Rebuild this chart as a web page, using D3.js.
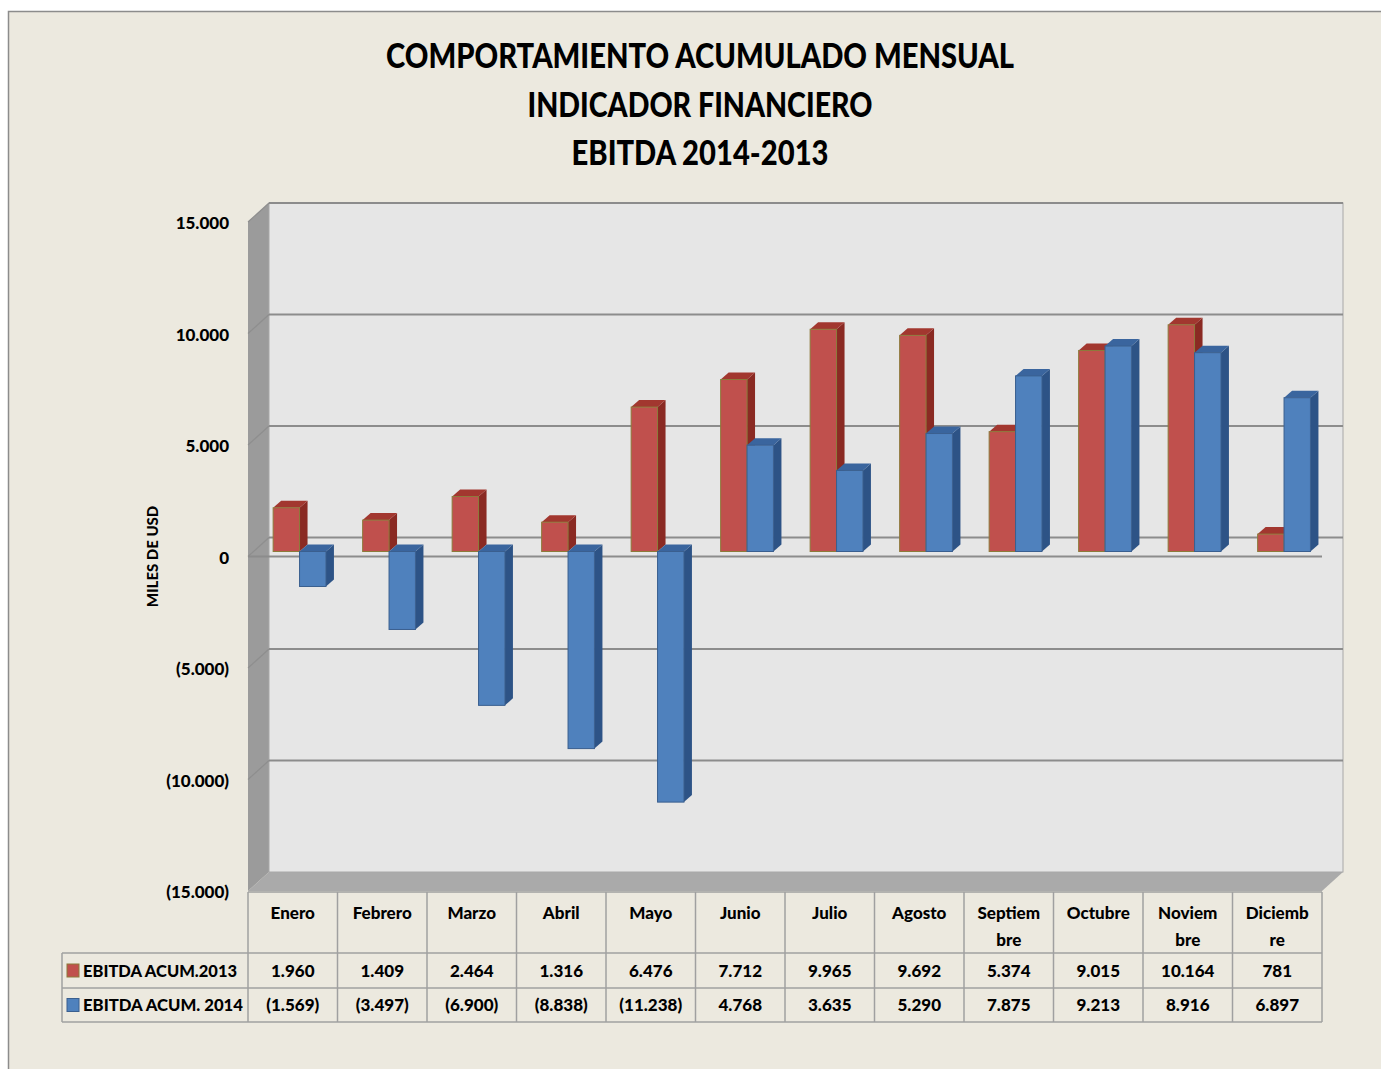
<!DOCTYPE html>
<html>
<head>
<meta charset="utf-8">
<script src="https://cdn.jsdelivr.net/npm/d3@7"></script>
<style>
  body { margin: 0; background: #fff; }
  text { font-family: Lato, "Noto Sans", sans-serif; font-weight: 900; fill: #000; }
</style>
</head>
<body>
<svg id="chart" width="1381" height="1069"></svg>
<script>
// data
const months = ["Enero", "Febrero", "Marzo", "Abril", "Mayo", "Junio", "Julio", "Agosto", "Septiembre", "Octubre", "Noviembre", "Diciembre"];
const monthLabels = [["Enero"], ["Febrero"], ["Marzo"], ["Abril"], ["Mayo"], ["Junio"], ["Julio"], ["Agosto"], ["Septiem", "bre"], ["Octubre"], ["Noviem", "bre"], ["Diciemb", "re"]];
const ebitda2013 = [1960, 1409, 2464, 1316, 6476, 7712, 9965, 9692, 5374, 9015, 10164, 781];
const ebitda2014 = [-1569, -3497, -6900, -8838, -11238, 4768, 3635, 5290, 7875, 9213, 8916, 6897];
const seriesNames = ["EBITDA ACUM.2013", "EBITDA ACUM. 2014"];
const yTicks = [15000, 10000, 5000, 0, -5000, -10000, -15000];
const titleLines = ["COMPORTAMIENTO ACUMULADO MENSUAL", "INDICADOR FINANCIERO", "EBITDA 2014-2013"];
const titleWidths = [628, 345, 257];

const series = [
  { name: seriesNames[0], values: ebitda2013, front: "#C0504D", top: "#A2372F", side: "#8A2A23", stroke: "#8C7A3A" },
  { name: seriesNames[1], values: ebitda2014, front: "#4F81BD", top: "#3A659E", side: "#2D5386", stroke: "#3A5F8F" }
];

const svg = d3.select("#chart");

// frame
svg.append("rect")
  .attr("x", 8.5).attr("y", 11.5)
  .attr("width", 1400).attr("height", 1100)
  .attr("fill", "#ECE9DF")
  .attr("stroke", "#8C8C8C").attr("stroke-width", 1.5);

// title
titleLines.forEach((t, i) => {
  svg.append("text")
    .attr("x", 700).attr("y", 68 + i * 48.5)
    .attr("text-anchor", "middle")
    .attr("textLength", titleWidths[i])
    .attr("lengthAdjust", "spacingAndGlyphs")
    .style("font-size", "34px")
    .text(t);
});

// scales (front plane)
const x = d3.scaleBand().domain(months).range([248, 1322]);
const y = d3.scaleLinear().domain([-15000, 15000]).range([891, 222]);
const depth = { dx: 21, dy: -19 };      // front plane -> back wall
const bOff = { dx: 5, dy: -5 };         // bar front face offset
const bDep = { dx: 8, dy: -7 };         // bar depth

const loc = d3.formatLocale({ decimal: ",", thousands: ".", grouping: [3], currency: ["$", ""] });
const f = loc.format(",.0f");
const fmt = v => v < 0 ? "(" + f(-v) + ")" : f(v);

const x0 = x.range()[0], x1 = x.range()[1];
const yTop = y(15000), yBot = y(-15000);

// left wall
svg.append("polygon")
  .attr("points", [[x0, yTop], [x0 + depth.dx, yTop + depth.dy], [x0 + depth.dx, yBot + depth.dy], [x0, yBot]].join(" "))
  .attr("fill", "#9B9B9B");

// floor
svg.append("polygon")
  .attr("points", [[x0, yBot], [x0 + depth.dx, yBot + depth.dy], [x1 + depth.dx, yBot + depth.dy], [x1, yBot]].join(" "))
  .attr("fill", "#AAAAAA");

// back wall
svg.append("rect")
  .attr("x", x0 + depth.dx).attr("y", yTop + depth.dy)
  .attr("width", x1 - x0).attr("height", yBot - yTop)
  .attr("fill", "#E6E6E6")
  .attr("stroke", "#A8A8A8").attr("stroke-width", 1);

// gridlines on back wall + side wall
const grid = svg.append("g");
yTicks.filter(v => v > -15000).forEach(v => {
  grid.append("line")
    .attr("x1", x0 + depth.dx).attr("x2", x1 + depth.dx)
    .attr("y1", y(v) + depth.dy).attr("y2", y(v) + depth.dy)
    .attr("stroke", "#8C8C8C").attr("stroke-width", 2);
  grid.append("line")
    .attr("x1", x0).attr("x2", x0 + depth.dx)
    .attr("y1", y(v)).attr("y2", y(v) + depth.dy)
    .attr("stroke", "#8E8E8E").attr("stroke-width", 1.2);
});

// zero line at the front
svg.append("line")
  .attr("x1", x0).attr("x2", x1)
  .attr("y1", y(0)).attr("y2", y(0))
  .attr("stroke", "#8C8C8C").attr("stroke-width", 2);

// bars
const bw = x.bandwidth() * 0.295;
const barsG = svg.append("g");
months.forEach((m, i) => {
  series.forEach((s, j) => {
    const v = s.values[i];
    const bx0 = x(m) + x.bandwidth() * 0.225 + j * bw + bOff.dx;
    const bx1 = bx0 + bw;
    const yv = y(v) + bOff.dy, y0 = y(0) + bOff.dy;
    const ft = Math.min(yv, y0), fb = Math.max(yv, y0);
    const g = barsG.append("g");
    g.append("polygon")
      .attr("points", [[bx1, ft], [bx1 + bDep.dx, ft + bDep.dy], [bx1 + bDep.dx, fb + bDep.dy], [bx1, fb]].join(" "))
      .attr("fill", s.side);
    g.append("polygon")
      .attr("points", [[bx0, ft], [bx1, ft], [bx1 + bDep.dx, ft + bDep.dy], [bx0 + bDep.dx, ft + bDep.dy]].join(" "))
      .attr("fill", s.top);
    g.append("rect")
      .attr("x", bx0).attr("y", ft)
      .attr("width", bw).attr("height", fb - ft)
      .attr("fill", s.front)
      .attr("stroke", s.stroke).attr("stroke-width", 1);
  });
});

// y axis labels
const yAxis = svg.append("g");
yTicks.forEach(v => {
  yAxis.append("text")
    .attr("x", 229).attr("y", y(v) + 3)
    .attr("text-anchor", "end")
    .attr("dominant-baseline", "middle")
    .style("font-size", "17px")
    .text(fmt(v));
});
svg.append("text")
  .attr("transform", "translate(154," + y(0) + ") rotate(-90)")
  .attr("text-anchor", "middle")
  .attr("dominant-baseline", "middle")
  .style("font-size", "15px")
  .text("MILES DE USD");

// data table
const rowTop = [892, 953, 988, 1022];
const lineC = "#A0A0A0";
const legX = 62;
const table = svg.append("g");
// horizontal lines
table.append("line").attr("x1", x0).attr("x2", x1).attr("y1", rowTop[0]).attr("y2", rowTop[0]).attr("stroke", lineC).attr("stroke-width", 1.5);
[1, 2, 3].forEach(k => {
  table.append("line").attr("x1", legX).attr("x2", x1).attr("y1", rowTop[k]).attr("y2", rowTop[k]).attr("stroke", lineC).attr("stroke-width", 1.5);
});
// vertical lines
months.forEach(m => {
  table.append("line").attr("x1", x(m)).attr("x2", x(m)).attr("y1", rowTop[0]).attr("y2", rowTop[3]).attr("stroke", lineC).attr("stroke-width", 1.5);
});
table.append("line").attr("x1", x1).attr("x2", x1).attr("y1", rowTop[0]).attr("y2", rowTop[3]).attr("stroke", lineC).attr("stroke-width", 1.5);
table.append("line").attr("x1", legX).attr("x2", legX).attr("y1", rowTop[1]).attr("y2", rowTop[3]).attr("stroke", lineC).attr("stroke-width", 1.5);

// month headers
months.forEach((m, i) => {
  const lines = monthLabels[i];
  lines.forEach((l, k) => {
    table.append("text")
      .attr("x", x(m) + x.bandwidth() / 2)
      .attr("y", 919 + k * 27)
      .attr("text-anchor", "middle")
      .style("font-size", "17px")
      .text(l);
  });
});

// series rows
series.forEach((s, j) => {
  const cy = (rowTop[j + 1] + rowTop[j + 2]) / 2;
  table.append("rect")
    .attr("x", 67).attr("y", cy - 6.5)
    .attr("width", 12).attr("height", 13)
    .attr("fill", s.front)
    .attr("stroke", s.stroke).attr("stroke-width", 1);
  table.append("text")
    .attr("x", 83).attr("y", cy + 6)
    .attr("textLength", j === 0 ? 154 : 160)
    .attr("lengthAdjust", "spacingAndGlyphs")
    .style("font-size", "17px")
    .text(s.name);
  s.values.forEach((v, i) => {
    table.append("text")
      .attr("x", x(months[i]) + x.bandwidth() / 2)
      .attr("y", cy + 6)
      .attr("text-anchor", "middle")
      .style("font-size", "17px")
      .text(fmt(v));
  });
});
</script>
</body>
</html>
